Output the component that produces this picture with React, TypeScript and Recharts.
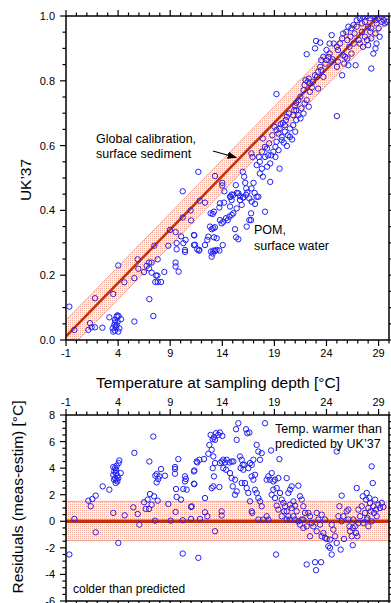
import React from "react";
import {
  ComposedChart,
  Scatter,
  Line,
  Area,
  XAxis,
  YAxis,
  ReferenceArea,
  ReferenceLine,
} from "recharts";

// temperature axis (shared by both panels)
const tempDomain = [-1, 30];
const tempLabels = [-1, 4, 9, 14, 19, 24, 29];
const tempTicks = [
  -1, 0, 1, 2, 3, 4, 5, 6, 7, 8, 9, 10, 11, 12, 13, 14, 15, 16, 17, 18, 19, 20,
  21, 22, 23, 24, 25, 26, 27, 28, 29, 30,
];

// UK'37 axis
const ukTicks = [
  0, 0.05, 0.1, 0.15, 0.2, 0.25, 0.3, 0.35, 0.4, 0.45, 0.5, 0.55, 0.6, 0.65,
  0.7, 0.75, 0.8, 0.85, 0.9, 0.95, 1,
];
const ukLabels = [0, 0.2, 0.4, 0.6, 0.8, 1];

// residual axis
const resTicks = [
  -6, -5.5, -5, -4.5, -4, -3.5, -3, -2.5, -2, -1.5, -1, -0.5, 0, 0.5, 1, 1.5, 2,
  2.5, 3, 3.5, 4, 4.5, 5, 5.5, 6, 6.5, 7, 7.5, 8,
];
const resLabels = [-6, -4, -2, 0, 2, 4, 6, 8];

// global core-top calibration (UK'37 = 0.033 T + 0.044) and its error band
const calibT = [-1, 30];
const calibUK = [0.011, 1.034];
const calibBand = 0.05;
const residualBand = [-1.45, 1.5];

// POM samples: [temperature, UK'37]
const pomPoints: [number, number][] = [
  [-0.68, 0.103], [-0.2, 0.031], [1.78, 0.129], [1.3, 0.052], [1.46, 0.039], [1.14, 0.031],
  [1.78, 0.039], [2.49, 0.038], [3.16, 0.07], [3.54, 0.142], [4.02, 0.23], [3.48, 0.036],
  [3.7, 0.029], [3.86, 0.046], [3.7, 0.062], [3.86, 0.072], [3.93, 0.076], [4.05, 0.074],
  [3.7, 0.054], [3.54, 0.026], [4.02, 0.026], [4.12, 0.036], [4.28, 0.064], [3.8, 0.039],
  [3.64, 0.046], [3.96, 0.057], [4.6, 0.178], [5.56, 0.191], [5.56, 0.057], [5.94, 0.22],
  [5.88, 0.249], [6.49, 0.21], [6.74, 0.229], [6.97, 0.239], [6.97, 0.221], [7.22, 0.239],
  [7.22, 0.208], [7.0, 0.126], [7.38, 0.074], [7.48, 0.291], [7.64, 0.199], [7.77, 0.199],
  [7.57, 0.179], [7.8, 0.179], [8.12, 0.179], [7.8, 0.249], [8.44, 0.21], [8.98, 0.34],
  [8.82, 0.291], [9.52, 0.333], [9.62, 0.299], [9.62, 0.28], [9.52, 0.239], [9.52, 0.227],
  [9.81, 0.211], [10.04, 0.32], [10.2, 0.378], [10.26, 0.299], [10.42, 0.278], [10.48, 0.309],
  [10.42, 0.272], [10.96, 0.4], [11.0, 0.369], [11.32, 0.323], [11.38, 0.294], [11.6, 0.28],
  [11.76, 0.276], [11.83, 0.43], [10.2, 0.459],
  [11.28, 0.324], [11.28, 0.293], [11.8, 0.278], [12.34, 0.424], [12.34, 0.293], [12.56, 0.309],
  [12.88, 0.391], [13.08, 0.389], [13.2, 0.396], [12.82, 0.35], [12.98, 0.342], [13.14, 0.345],
  [13.3, 0.348], [12.66, 0.319], [13.2, 0.317], [13.46, 0.314], [12.92, 0.273], [13.14, 0.276],
  [13.3, 0.275], [13.08, 0.267], [13.46, 0.278], [13.72, 0.276], [12.98, 0.257], [14.04, 0.293],
  [13.78, 0.37], [13.94, 0.36], [14.1, 0.365], [14.36, 0.376], [14.52, 0.37], [14.68, 0.381],
  [14.9, 0.386], [15.06, 0.391], [13.72, 0.409], [13.78, 0.422], [14.16, 0.424], [14.74, 0.442],
  [14.9, 0.432], [15.06, 0.448], [15.54, 0.453], [15.7, 0.432], [15.86, 0.417], [16.02, 0.44],
  [16.28, 0.448], [16.4, 0.455], [16.6, 0.437], [16.82, 0.427], [17.14, 0.42], [17.46, 0.442],
  [15.22, 0.342], [15.32, 0.317], [15.54, 0.311], [16.34, 0.35], [16.6, 0.37], [16.76, 0.37],
  [16.76, 0.391], [18.1, 0.396], [14.74, 0.412], [15.38, 0.406],
  [11.7, 0.519], [13.3, 0.506], [14.0, 0.485], [14.0, 0.477], [14.2, 0.459], [14.9, 0.449],
  [15.4, 0.454], [14.8, 0.442], [15.7, 0.444], [16.0, 0.44], [15.3, 0.478], [15.96, 0.519],
  [16.1, 0.504], [16.2, 0.485], [16.3, 0.468], [16.8, 0.576], [16.9, 0.565], [17.0, 0.485],
  [16.8, 0.468], [17.1, 0.454], [17.3, 0.442], [17.5, 0.565], [17.6, 0.55], [17.3, 0.54],
  [17.8, 0.529], [17.6, 0.514], [17.9, 0.504], [18.3, 0.535], [18.6, 0.545], [18.1, 0.565],
  [18.4, 0.57], [18.7, 0.57], [19.1, 0.565], [19.4, 0.586], [19.5, 0.529], [18.6, 0.488],
  [17.8, 0.581], [17.9, 0.622], [18.1, 0.596], [18.3, 0.591], [18.5, 0.607], [18.8, 0.632],
  [19.0, 0.658], [19.2, 0.759], [19.2, 0.648], [19.4, 0.637], [19.5, 0.653], [19.6, 0.666],
  [19.8, 0.67], [20.0, 0.663], [20.1, 0.679], [20.2, 0.689], [20.4, 0.699], [20.3, 0.632],
  [20.5, 0.627], [20.2, 0.599], [20.7, 0.619], [19.7, 0.617], [19.9, 0.609], [20.8, 0.694],
  [20.9, 0.709], [21.0, 0.722], [21.1, 0.732], [21.3, 0.74], [21.5, 0.751], [21.6, 0.715],
  [21.9, 0.73], [21.8, 0.771], [21.9, 0.787], [22.0, 0.802], [22.2, 0.797], [22.3, 0.807],
  [22.4, 0.792], [22.4, 0.766], [22.6, 0.779], [22.7, 0.797], [22.9, 0.817], [23.1, 0.812],
  [23.2, 0.828], [23.4, 0.843], [23.5, 0.833], [23.2, 0.776], [23.7, 0.812], [23.9, 0.853],
  [24.0, 0.864], [24.2, 0.874], [24.3, 0.884], [24.5, 0.859], [24.6, 0.866], [23.7, 0.874],
  [23.5, 0.864], [22.1, 0.882], [23.0, 0.923], [23.4, 0.918], [22.9, 0.9], [24.0, 0.895],
  [24.3, 0.915], [24.5, 0.941], [24.7, 0.915], [25.0, 0.905], [25.1, 0.895], [25.3, 0.915],
  [25.5, 0.931], [25.0, 0.691], [25.5, 0.817], [25.8, 0.874], [26.0, 0.869], [26.2, 0.905],
  [26.0, 0.926], [25.6, 0.946], [26.3, 0.936], [26.4, 0.962], [26.6, 0.972], [26.7, 0.946],
  [26.8, 0.848], [27.1, 0.926], [27.2, 0.915], [27.4, 0.951], [27.5, 0.905], [27.7, 0.936],
  [27.9, 0.926], [28.0, 0.967], [28.2, 0.951], [28.3, 0.838], [28.5, 0.884], [28.7, 0.946],
  [28.3, 0.962], [28.8, 0.977], [29.0, 0.962], [29.3, 0.982], [29.6, 0.977], [26.9, 0.987],
  [27.2, 0.993], [27.5, 0.998], [27.9, 1.0], [28.2, 0.993], [28.5, 0.998], [28.7, 0.987],
  [29.0, 0.993], [29.3, 0.998], [29.5, 0.987], [29.8, 0.982], [27.7, 0.982], [27.4, 0.977],
  [26.9, 0.967], [25.9, 0.951], [26.1, 0.967], [28.3, 0.931], [28.0, 0.91], [28.8, 0.915],
  [28.7, 0.9], [29.1, 0.936], [26.6, 0.915], [26.4, 0.884], [26.1, 0.848], [25.6, 0.879],
  [25.7, 0.853], [25.1, 0.859], [25.0, 0.843], [21.1, 0.709], [21.3, 0.694], [21.5, 0.684],
  [21.8, 0.699], [22.1, 0.74], [22.3, 0.72], [20.5, 0.653], [20.8, 0.663], [21.0, 0.643],
  [21.1, 0.679], [20.0, 0.643], [19.7, 0.627], [19.2, 0.612], [19.1, 0.596], [18.9, 0.581],
];

// residuals: [temperature, measured - estimated °C]
const residualPoints: [number, number][] = [
  [-0.68, -2.5], [-0.2, 0.18], [1.14, 1.55], [1.37, 1.13], [1.53, 1.68], [1.85, -0.83],
  [1.85, 1.93], [2.52, 2.63], [3.16, 2.38], [3.54, 0.63], [4.63, 0.45], [4.02, -1.63],
  [3.54, 4.08], [3.7, 4.0], [3.86, 4.18], [3.64, 3.75], [3.8, 3.63], [3.93, 3.43],
  [3.7, 3.25], [3.86, 3.13], [3.77, 2.88], [3.93, 3.0], [3.54, 3.5], [4.05, 4.38],
  [4.12, 4.58], [4.25, 3.63], [3.8, 3.88], [3.61, 3.13], [4.02, 3.25], [5.56, 5.15],
  [5.46, 1.05], [5.88, 0.55], [6.04, -0.25], [6.49, 1.43], [6.65, 0.93], [7.0, 4.5],
  [6.97, 0.93], [6.84, 1.63], [7.06, 2.05], [7.22, 1.25], [7.38, 6.38], [7.45, 1.88],
  [7.54, 0.05], [7.57, 3.43], [7.7, 3.55], [7.7, 2.93], [7.8, 1.55], [7.86, 3.18],
  [7.96, 3.38], [8.12, 3.93], [8.5, 3.43], [8.82, 1.3], [9.04, 0.05], [9.46, 4.08],
  [9.46, 3.93], [9.46, 3.58], [9.56, 2.43], [9.62, 1.83], [9.52, 0.7], [9.78, 4.68],
  [10.04, 1.63], [10.2, 0.08], [10.2, -2.43], [10.26, 2.43], [10.42, 3.38], [10.5, 3.18],
  [10.42, 3.0], [10.58, 2.38], [11.0, 1.08], [11.0, 0.18], [11.32, 3.83], [11.32, 2.8],
  [11.6, 4.43], [11.7, -2.75], [11.8, 4.63], [11.86, 0.18],
  [11.06, 1.13], [11.28, 2.83], [11.28, 3.75], [11.54, 4.5], [12.24, 4.68], [12.34, 1.75],
  [12.34, 0.68], [12.56, 0.38], [12.66, 5.08], [12.76, 5.75], [12.88, 6.5], [12.98, 5.38],
  [13.08, 6.18], [13.2, 6.33], [13.3, 6.13], [13.4, 6.63], [13.62, 6.5], [13.78, 6.68],
  [14.0, 6.43], [13.14, 4.88], [13.3, 4.38], [13.08, 4.0], [13.2, 3.38], [12.98, 2.5],
  [13.14, 2.63], [13.72, 2.58], [13.3, -0.75], [13.94, 0.75], [13.94, 0.43], [13.78, 4.38],
  [13.94, 4.5], [14.1, 4.63], [14.26, 4.43], [14.42, 4.63], [14.68, 4.43], [14.9, 4.5],
  [15.06, 4.5], [14.1, 4.0], [14.36, 3.88], [14.74, 3.63], [14.9, 3.25], [15.0, 2.63],
  [15.22, 3.13], [15.38, 6.13], [15.54, 7.38], [15.32, 6.93], [15.7, 4.88], [15.86, 4.63],
  [15.76, 4.0], [15.96, 4.25], [16.02, 3.88], [16.12, 4.25], [16.28, 6.93], [16.4, 6.63],
  [16.6, 6.68], [16.5, 4.0], [16.66, 4.38], [16.82, 4.25], [16.98, 4.63], [16.82, 3.38],
  [16.98, 3.13], [17.14, 3.5], [17.3, 5.75], [17.46, 5.25], [17.62, 4.63], [17.78, 5.13],
  [18.1, 7.38], [18.68, 5.33], [19.48, 4.68], [15.86, 2.88], [16.18, 2.88], [16.34, 2.5],
  [16.5, 2.13], [15.38, 2.25], [15.22, 2.0], [16.66, 1.5], [16.82, 0.75], [16.88, 0.63],
  [17.14, 2.38], [17.3, 2.13], [17.46, 1.75], [17.62, 1.5], [17.78, 1.13], [17.94, 0.13],
  [17.46, 0.13], [18.26, 0.38], [18.42, 0.13], [18.58, 3.13], [18.74, 3.63], [18.42, 3.38],
  [18.26, 3.13], [18.9, 3.0], [19.06, 3.13], [19.22, 2.5], [19.38, 3.25], [18.9, 2.38],
  [18.74, 2.0], [19.06, 1.75], [19.22, 1.18], [19.38, 0.88], [19.16, -2.5], [19.54, 2.13],
  [19.7, 1.63], [19.86, 1.38], [20.02, 1.13], [20.18, 3.25], [20.34, 2.13], [20.5, 2.38],
  [20.66, 2.63], [20.18, 0.75], [20.34, 0.38], [20.5, 1.25], [20.66, 1.0], [20.82, 1.5],
  [20.98, 1.18], [20.82, 0.38], [21.14, 0.75], [21.3, 2.68], [21.46, 1.88], [21.62, 1.63],
  [21.78, 1.13], [21.94, 0.63], [21.3, 0.0], [21.46, -0.25], [21.62, 0.13], [21.78, -0.5],
  [22.1, -3.25], [22.26, 0.63], [22.42, 0.38], [22.58, -0.13], [22.74, -0.38], [22.9, -3.08],
  [23.0, -3.68], [23.06, 0.63], [23.22, 0.13], [23.38, -0.25], [23.48, -3.08], [23.54, 0.5],
  [23.7, -0.88], [23.86, -1.25], [24.02, -1.33], [24.18, -1.88], [24.34, -2.0], [24.5, -2.5],
  [24.34, -1.38], [24.5, -0.25], [24.66, -0.63], [24.82, -1.13], [24.98, -1.63], [24.98, 5.25],
  [25.24, 1.13], [25.46, 1.93], [25.36, -2.13], [25.62, 0.38], [25.68, -1.33], [25.94, 0.75],
  [26.1, 0.13], [26.2, -0.38], [26.26, -0.75], [26.42, -1.13], [26.52, -1.8], [26.58, 0.13],
  [26.74, -0.38], [26.84, -0.88], [26.9, 2.5], [26.96, -1.13], [27.06, 0.88], [27.22, 0.38],
  [27.38, 1.13], [27.48, 1.88], [27.54, -0.13], [27.7, 0.63], [27.8, 1.63], [27.86, 2.13],
  [27.92, 0.25], [28.02, 1.0], [28.12, 1.75], [28.18, 1.38], [28.24, 0.75], [28.34, 4.13],
  [28.44, 2.88], [28.34, 0.0], [28.5, 1.13], [28.56, 0.63], [28.66, 1.63], [28.76, 0.88],
  [28.82, 0.38], [28.98, 1.25], [29.14, 1.0], [29.3, 1.38], [29.46, 1.08], [28.02, -0.38],
  [27.86, 0.13], [27.06, -0.13], [26.52, -0.5], [26.1, 0.88], [25.46, 0.0], [25.14, 0.38],
  [23.86, 0.13], [23.54, -1.13], [23.06, -0.75], [22.42, -1.13], [22.1, -0.38], [21.78, 0.13],
  [20.98, 0.13], [20.5, 0.13], [20.18, 0.13], [19.7, 0.38], [19.92, 0.75],
];

const FONT = "'Liberation Sans', Arial, sans-serif";
const BLUE = "#2020f4";
const RED = "#c4320c";
const isIn = (v: number, list: number[]) => list.some((l) => Math.abs(l - v) < 1e-6);

function XTick(props: any) {
  const { x, y, payload, up, labels } = props;
  const major = tempLabels.includes(payload.value);
  const len = major ? 6 : 3.5;
  const d = up ? -1 : 1;
  return (
    <g>
      <line x1={x} x2={x} y1={y} y2={y + d * len} stroke="#000" strokeWidth={1.2} />
      {labels && major && (
        <text
          x={x}
          y={up ? y - 9 : y + 17}
          textAnchor="middle"
          fontSize={11}
          fontFamily={FONT}
          fill="#000"
        >
          {payload.value}
        </text>
      )}
    </g>
  );
}

function YTick(props: any) {
  const { x, y, payload, right, majors, fmt } = props;
  const major = isIn(payload.value, majors);
  const len = major ? 6 : 3.5;
  const d = right ? 1 : -1;
  return (
    <g>
      <line x1={x} x2={x + d * len} y1={y} y2={y} stroke="#000" strokeWidth={1.2} />
      {!right && major && (
        <text
          x={x - 11}
          y={y}
          dy="0.36em"
          textAnchor="end"
          fontSize={11}
          fontFamily={FONT}
          fill="#000"
        >
          {fmt(payload.value)}
        </text>
      )}
    </g>
  );
}

const circle = (p: any) => (
  <circle cx={p.cx} cy={p.cy} r={2.7} fill="none" stroke={BLUE} strokeWidth={1} />
);

const dots = (id: string) => (
  <defs>
    <pattern id={id} width={2} height={2} patternUnits="userSpaceOnUse">
      <rect width={2} height={2} fill="#fff5f2" />
      <rect width={1} height={1} fill="#f2ac9e" />
    </pattern>
  </defs>
);

const axisLine = { stroke: "#000", strokeWidth: 1.5 };

export default function App() {
  const calibRows = calibT.map((t, i) => ({
    x: t,
    uk: calibUK[i],
    band: [calibUK[i] - calibBand, calibUK[i] + calibBand],
  }));
  const pomData = pomPoints.map(([x, y]) => ({ x, y }));
  const resData = residualPoints.map(([x, y]) => ({ x, y }));

  return (
    <div
      style={{
        position: "absolute",
        left: 0,
        top: 0,
        width: 391,
        height: 603,
        background: "#fff",
        fontFamily: FONT,
        overflow: "hidden",
      }}
    >
      <div style={{ position: "absolute", left: 0, top: 0 }}>
        <ComposedChart
          width={391}
          height={360}
          data={calibRows}
          margin={{ top: 0, right: 0, bottom: 0, left: 0 }}
        >
          {dots("hatchTop")}
          <XAxis
            xAxisId="b"
            dataKey="x"
            type="number"
            domain={tempDomain}
            ticks={tempTicks}
            interval={0}
            allowDataOverflow
            height={20}
            tickSize={0}
            tickMargin={0}
            axisLine={axisLine}
            tick={(p: any) => <XTick {...p} labels />}
          />
          <XAxis
            xAxisId="t"
            dataKey="x"
            type="number"
            orientation="top"
            domain={tempDomain}
            ticks={tempTicks}
            interval={0}
            allowDataOverflow
            height={16}
            tickSize={0}
            tickMargin={0}
            axisLine={axisLine}
            tick={(p: any) => <XTick {...p} up />}
          />
          <YAxis
            yAxisId="l"
            type="number"
            domain={[0, 1]}
            ticks={ukTicks}
            interval={0}
            allowDataOverflow
            width={66}
            tickSize={0}
            tickMargin={0}
            axisLine={axisLine}
            tick={(p: any) => (
              <YTick {...p} majors={ukLabels} fmt={(v: number) => v.toFixed(1)} />
            )}
          />
          <YAxis
            yAxisId="r"
            orientation="right"
            type="number"
            domain={[0, 1]}
            ticks={ukTicks}
            interval={0}
            allowDataOverflow
            width={2}
            tickSize={0}
            tickMargin={0}
            axisLine={axisLine}
            tick={(p: any) => <YTick {...p} right majors={ukLabels} />}
          />
          <Area
            xAxisId="b"
            yAxisId="l"
            dataKey="band"
            type="linear"
            fill="url(#hatchTop)"
            fillOpacity={1}
            stroke="#ec8e7c"
            strokeWidth={0.8}
            isAnimationActive={false}
          />
          <Line
            xAxisId="b"
            yAxisId="l"
            dataKey="uk"
            type="linear"
            stroke={RED}
            strokeWidth={2.6}
            dot={false}
            isAnimationActive={false}
          />
          <Scatter
            xAxisId="b"
            yAxisId="l"
            data={pomData}
            dataKey="y"
            shape={circle}
            isAnimationActive={false}
          />
        </ComposedChart>
      </div>

      <div style={{ position: "absolute", left: 0, top: 390 }}>
        <ComposedChart
          width={391}
          height={213}
          margin={{ top: 0, right: 0, bottom: 0, left: 0 }}
        >
          {dots("hatchBot")}
          <XAxis
            xAxisId="b"
            dataKey="x"
            type="number"
            domain={tempDomain}
            ticks={tempTicks}
            interval={0}
            allowDataOverflow
            height={2}
            tickSize={0}
            tickMargin={0}
            axisLine={axisLine}
            tick={(p: any) => <XTick {...p} />}
          />
          <XAxis
            xAxisId="t"
            dataKey="x"
            type="number"
            orientation="top"
            domain={tempDomain}
            ticks={tempTicks}
            interval={0}
            allowDataOverflow
            height={25}
            tickSize={0}
            tickMargin={0}
            axisLine={axisLine}
            tick={(p: any) => <XTick {...p} up labels />}
          />
          <YAxis
            yAxisId="l"
            type="number"
            domain={[-6, 8]}
            ticks={resTicks}
            interval={0}
            allowDataOverflow
            width={66}
            tickSize={0}
            tickMargin={0}
            axisLine={axisLine}
            tick={(p: any) => (
              <YTick {...p} majors={resLabels} fmt={(v: number) => String(v)} />
            )}
          />
          <YAxis
            yAxisId="r"
            orientation="right"
            type="number"
            domain={[-6, 8]}
            ticks={resTicks}
            interval={0}
            allowDataOverflow
            width={2}
            tickSize={0}
            tickMargin={0}
            axisLine={axisLine}
            tick={(p: any) => <YTick {...p} right majors={resLabels} />}
          />
          <ReferenceArea
            xAxisId="b"
            yAxisId="l"
            y1={residualBand[0]}
            y2={residualBand[1]}
            fill="url(#hatchBot)"
            fillOpacity={1}
            stroke="#ec8e7c"
            strokeWidth={0.8}
          />
          <ReferenceLine xAxisId="b" yAxisId="l" y={0} stroke={RED} strokeWidth={3.5} />
          <Scatter
            xAxisId="b"
            yAxisId="l"
            data={resData}
            dataKey="y"
            shape={circle}
            isAnimationActive={false}
          />
        </ComposedChart>
      </div>

      <svg
        width={391}
        height={603}
        style={{ position: "absolute", left: 0, top: 0, pointerEvents: "none" }}
        fontFamily={FONT}
      >
        <defs>
          <marker id="arrowHead" markerWidth="8" markerHeight="6" refX="7" refY="3" orient="auto">
            <path d="M0,0 L8,3 L0,6 Z" fill="#000" />
          </marker>
        </defs>
        <text x={96} y={143} fontSize={12.5}>Global calibration,</text>
        <text x={96} y={158} fontSize={12.5}>surface sediment</text>
        <line x1={213} y1={151} x2={236} y2={157.5} stroke="#000" strokeWidth={1.2} markerEnd="url(#arrowHead)" />
        <text x={254} y={234} fontSize={12.5}>POM,</text>
        <text x={254} y={250} fontSize={12.5}>surface water</text>
        <text x={218} y={388} fontSize={15.5} textAnchor="middle">
          Temperature at sampling depth [°C]
        </text>
        <text transform="translate(31,180) rotate(-90)" fontSize={15.5} textAnchor="middle">
          UK’37
        </text>
        <text transform="translate(23,497) rotate(-90)" fontSize={15.5} textAnchor="middle">
          Residuals (meas-estim) [°C]
        </text>
        <text x={275} y={433} fontSize={12.5}>Temp. warmer than</text>
        <text x={275} y={448} fontSize={12.5}>predicted by UK’37</text>
        <text x={73} y={593} fontSize={12}>colder than predicted</text>
      </svg>
    </div>
  );
}
